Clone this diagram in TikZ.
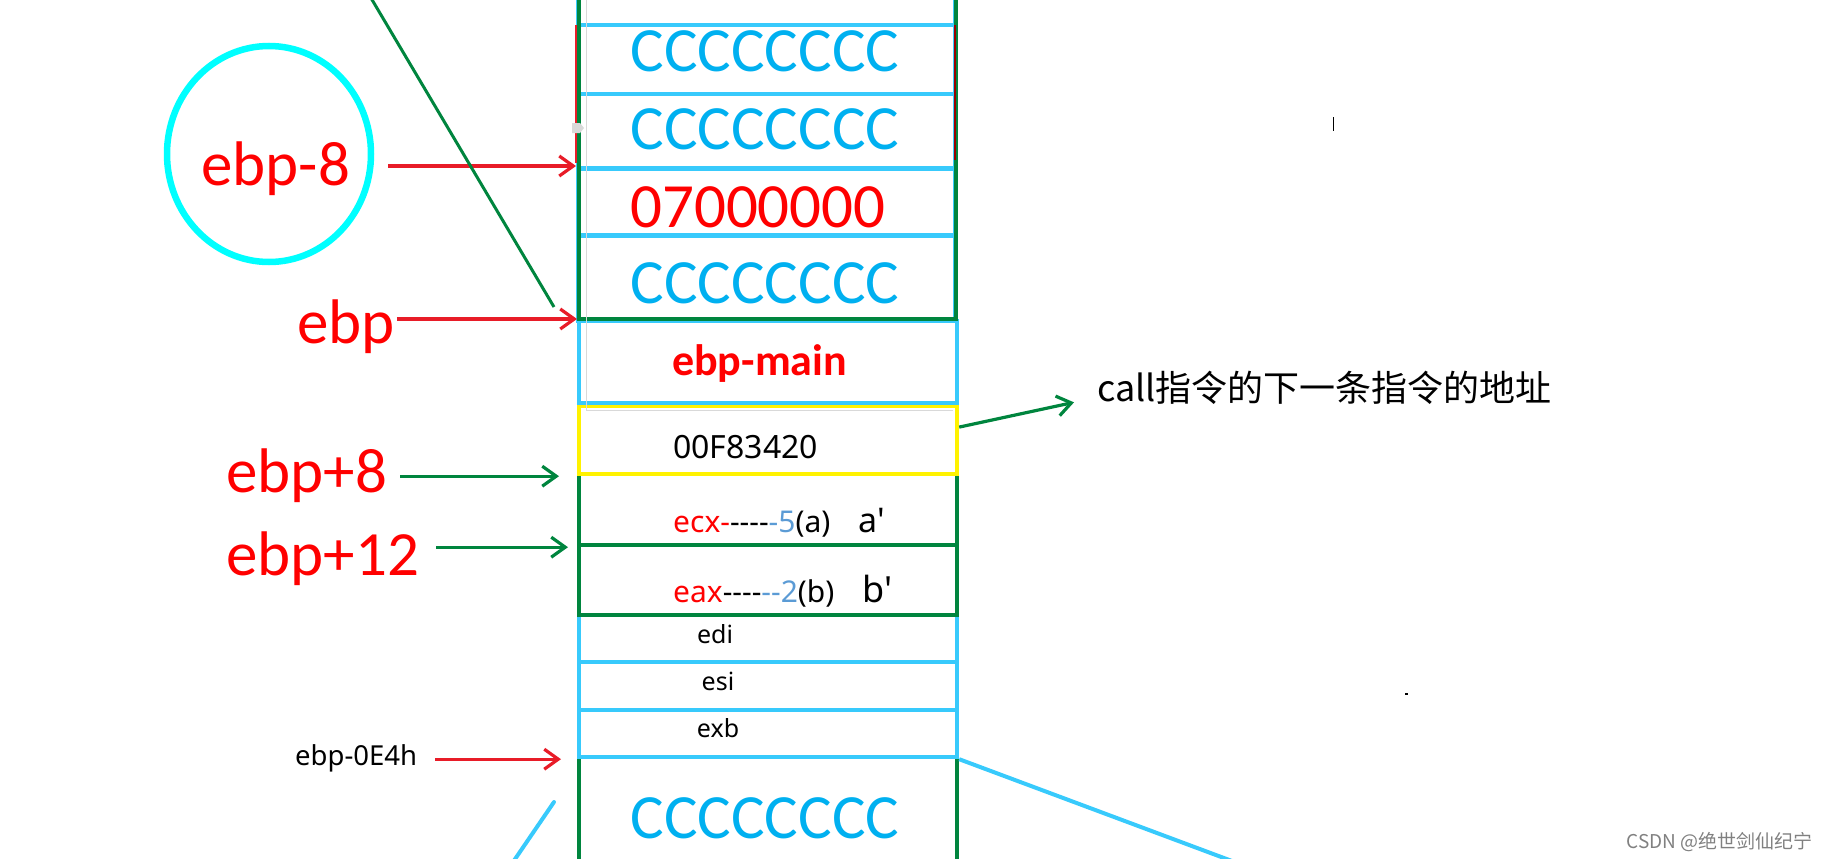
\documentclass[tikz,border=0pt]{standalone}
\usepackage{fontspec}
\setmainfont{Carlito}
\newfontfamily\nsans{Noto Sans}
\newfontfamily\cjk{Noto Sans CJK SC}
\usetikzlibrary{arrows.meta,positioning,shapes.geometric,calc}
\definecolor{cellblue}{RGB}{56,202,252}
\definecolor{ccblue}{RGB}{0,176,240}
\definecolor{stkgreen}{RGB}{0,133,62}
\definecolor{arrred}{RGB}{232,28,40}
\definecolor{numblue}{RGB}{91,155,213}
\definecolor{ringcyan}{RGB}{0,255,255}
\definecolor{boxyellow}{RGB}{255,242,0}
\newcommand\hy{\mbox{-}}
\newcommand\bigsz{\fontsize{63}{70}\selectfont}

\begin{document}
\begin{tikzpicture}[x=1pt, y=-1pt,
    cell/.style={draw=cellblue, line width=4.2pt, rectangle, inner sep=0pt, minimum width=377pt, anchor=north west},
    gcell/.style={cell, draw=stkgreen, line width=4.2pt, minimum width=378pt},
    cc/.style={font=\bigsz, text=ccblue, anchor=base, inner sep=0pt},
    lbl/.style={font=\bigsz, text=red, anchor=base west, inner sep=0pt},
    reg/.style={font=\nsans\fontsize{25}{28}\selectfont, anchor=base, inner sep=0pt},
    mid/.style={font=\nsans\fontsize{30}{34}\selectfont, anchor=base west, inner sep=0pt},
    redarr/.style={draw=arrred, line width=3.2pt, -{Straight Barb[length=14pt,width=20pt]}},
    grnarr/.style={draw=stkgreen, line width=3.2pt, -{Straight Barb[length=14pt,width=20pt]}}
]
\useasboundingbox (0,0) rectangle (1829,859);
\clip (0,0) rectangle (1829,859);

% lower part of the stack
\node[gcell, minimum height=150pt] (cc5) at (577,755) {};
\node[cell, minimum width=378pt, minimum height=47pt] (edi) at (577,613) {};
\node[cell, minimum width=378pt, minimum height=48pt] (esi) at (577,660) {};
\node[cell, minimum width=378pt, minimum height=47pt] (exb) at (577,708) {};
\node[gcell, minimum height=71pt] (argA) at (577,472) {};
\node[gcell, minimum height=70pt] (argB) at (577,543) {};
\node[cell, draw=boxyellow, minimum width=378pt, minimum height=68pt] (ret) at (577,404) {};
\node[cell, minimum width=378pt, minimum height=82pt] (ebpm) at (577,319) {};

% upper part (locals)
\node[cell, minimum height=43pt] (top0) at (576,-20) {};
\node[cell, minimum height=69pt] (cc1) at (576,23) {};
\node[cell, minimum height=74pt] (cc2) at (576,92) {};
\node[cell, minimum height=67pt, line width=5pt] (v7) at (576,166) {};
\node[cell, minimum height=86pt] (cc4) at (576,233) {};
\draw[stkgreen, line width=4.2pt] (579,-20) rectangle (956,319);
\draw[arrred, line width=1.8pt] (576,25) -- (576,163);
\draw[red!60!black, line width=1.8pt] (955,25) -- (955,160);
\draw[black!15, line width=1pt] (586,-5) -- (586,410) -- (953,410);
\fill[black!15] (572,123) -- (580,123) -- (584,128) -- (580,133) -- (572,133) -- cycle;

% cell contents
\node[cc] (t1) at (765,72) {CCCCCCCC};
\node[cc] (t2) at (765,149) {CCCCCCCC};
\node[lbl] (t7) at (630,227) {07000000};
\node[cc] (t4) at (765,303) {CCCCCCCC};
\node[cc] (t5) at (765,838) {CCCCCCCC};
\node[mid, font=\bfseries\fontsize{44}{48}\selectfont, text=red] (tmain) at (672,375) {ebp-main};
\node[mid, font=\nsans\fontsize{32}{36}\selectfont] (tret) at (673,458) {00F83420};
\node[mid] (tecx) at (673,532) {\color{red}ecx\hy\color{black}\hy\hy\hy\hy\color{numblue}\hy5\color{black}(a)};
\node[mid, font=\nsans\fontsize{34}{38}\selectfont] (tap) at (858,532) {a\textquotesingle};
\node[mid] (teax) at (673,602) {\color{red}eax\color{black}\hy\hy\hy\hy\color{numblue}\hy\hy2\color{black}(b)};
\node[mid, font=\nsans\fontsize{36}{40}\selectfont] (tbp) at (862,602) {b\textquotesingle};
\node[reg] (tedi) at (715,643) {edi};
\node[reg] (tesi) at (718,690) {esi};
\node[reg] (texb) at (718,737) {exb};

% pointers on the left
\node[draw=ringcyan, line width=6.5pt, ellipse, minimum width=204pt, minimum height=216pt] (ring) at (269,154) {};
\node[lbl] (l8) at (201,185) {ebp-8};
\node[lbl] (lb) at (297,343) {ebp};
\node[lbl] (lp8) at (226,492) {ebp+8};
\node[lbl] (lp12) at (226,575) {ebp+12};
\node[mid, font=\nsans\fontsize{27.5}{30}\selectfont] (l0e4) at (295,765) {ebp-0E4h};

\draw[redarr, shorten <=38pt] (l8.east |- v7.north west) -- (v7.north west);
\draw[redarr, shorten <=2pt] (lb.east |- ebpm.north west) -- (ebpm.north west);
\draw[grnarr, shorten <=13pt, shorten >=18pt] (lp8.east |- ret.south west) -- (ret.south west);
\draw[grnarr, shorten <=17pt, shorten >=9pt] (lp12.east |- argA.south west) -- (argA.south west);
\draw[redarr, shorten <=18pt, shorten >=16pt] (l0e4.east |- exb.south west) -- (exb.south west);

\coordinate (diagtop) at (371,-2);
\coordinate (diagend) at (554,307);
\draw[stkgreen, line width=3pt] (diagtop) -- (diagend);
\coordinate (cyA) at (554,802);
\coordinate (cyB) at (511,865);
\draw[cellblue, line width=4pt, line cap=round] (cyA) -- (cyB);

% right side
\node[font=\cjk\fontsize{36}{40}\selectfont, anchor=base west, inner sep=0pt] (calltxt) at (1097,401) {call指令的下一条指令的地址};
\draw[grnarr] ([yshift=13pt]ret.east) -- ([xshift=-23pt,yshift=-15pt]calltxt.west);
\coordinate (cyC) at (1240,864);
\draw[cellblue, line width=4pt] (exb.south east) -- (cyC);

\draw[black, line width=1pt] (1333,117) -- (1333,131);
\fill[black] (1405,693) rectangle (1408,695);
\node[font=\cjk\fontsize{19}{20}\selectfont, text=black!50, anchor=base east, inner sep=0pt] (wm) at (1813,848) {CSDN @绝世剑仙纪宁};
\end{tikzpicture}
\end{document}
